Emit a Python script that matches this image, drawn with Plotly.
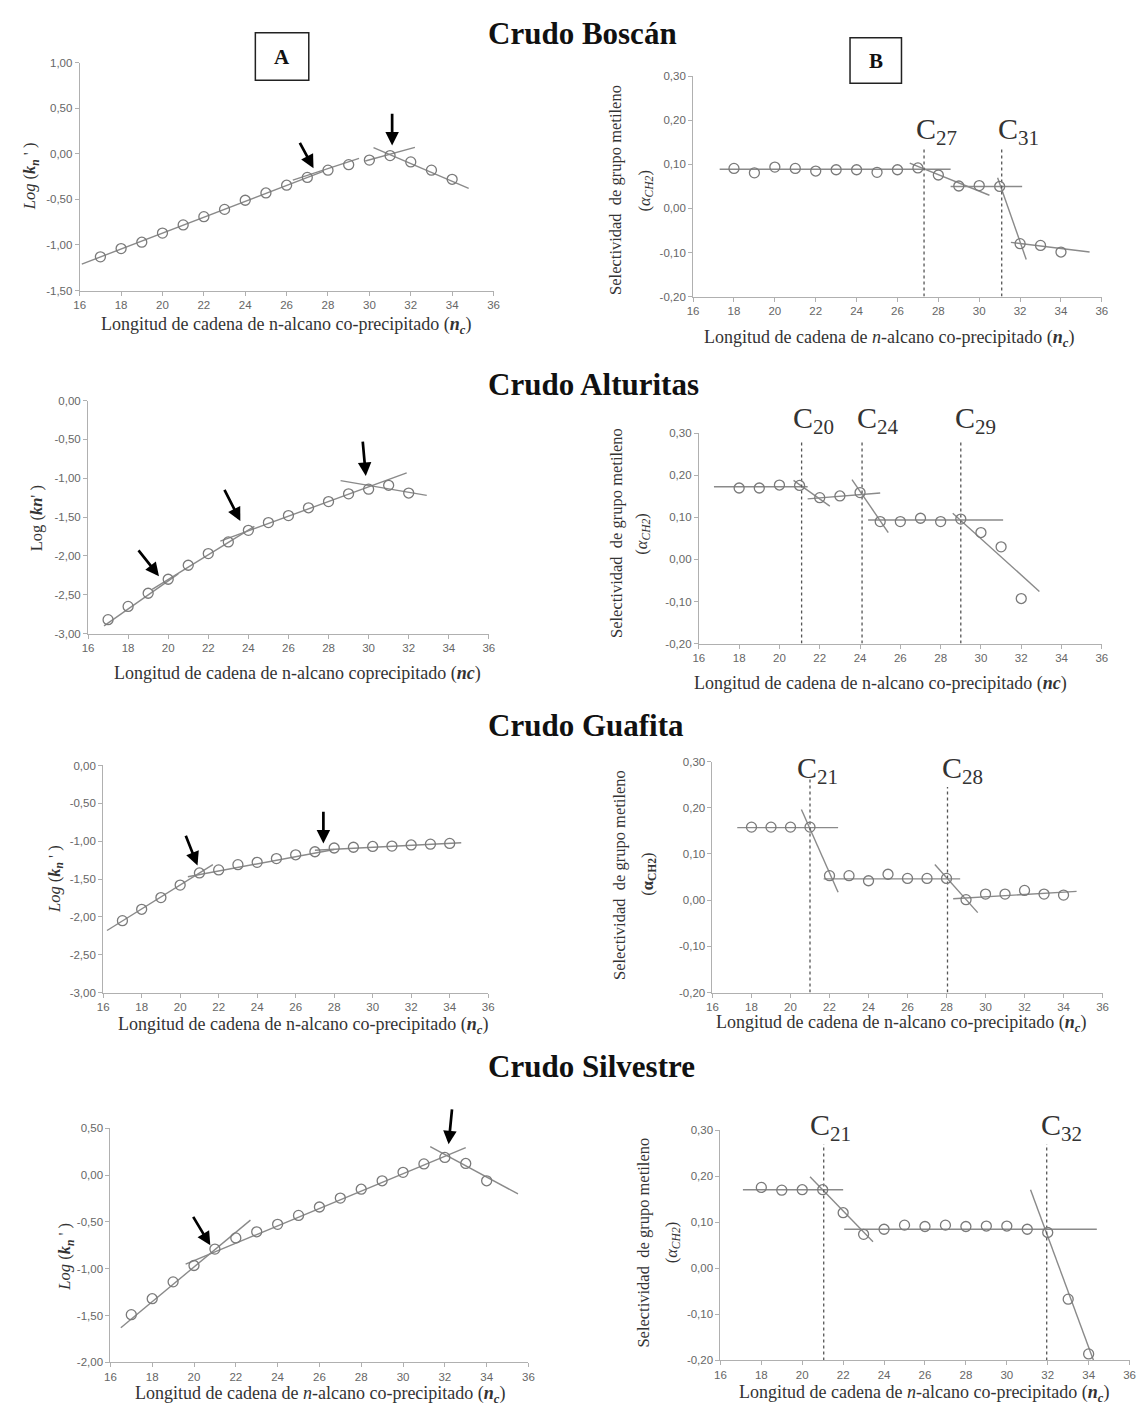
import plotly.graph_objects as go

W, H = 1141, 1411

# ------------------------------------------------------------------ data
# Crudo Boscán
bos_A_nc = [17, 18, 19, 20, 21, 22, 23, 24, 25, 26, 27, 28, 29, 30, 31, 32, 33, 34]
bos_A_log = [-1.13, -1.04, -0.97, -0.87, -0.78, -0.69, -0.61, -0.51, -0.43, -0.345,
             -0.26, -0.18, -0.12, -0.07, -0.02, -0.09, -0.18, -0.28]
bos_A_fits = [(16.1, -1.21, 27.8, -0.19), (26.3, -0.29, 29.5, -0.05),
              (29.8, -0.08, 32.2, 0.07), (30.2, 0.066, 34.8, -0.38)]
bos_A_arrows = [(26.6, 0.136, 27.3, -0.16), (31.1, 0.456, 31.1, 0.09)]

bos_B_nc = [18, 19, 20, 21, 22, 23, 24, 25, 26, 27, 28, 29, 30, 31, 32, 33, 34]
bos_B_alpha = [0.091, 0.081, 0.094, 0.091, 0.085, 0.088, 0.088, 0.082, 0.088, 0.092,
               0.076, 0.051, 0.052, 0.050, -0.080, -0.084, -0.099]
bos_B_fits = [(17.3, 0.089, 28.6, 0.089), (26.6, 0.103, 30.5, 0.030),
              (28.6, 0.050, 32.1, 0.050), (30.9, 0.070, 32.3, -0.116),
              (31.55, -0.077, 35.4, -0.099)]
bos_B_breaks = [27.3, 31.1]
bos_B_break_top = [0.137, 0.137]
bos_B_labels = ["27", "31"]
bos_B_label_x = [27.9, 31.9]
bos_B_label_y = [0.128, 0.128]

# Crudo Alturitas
alt_A_nc = [17, 18, 19, 20, 21, 22, 23, 24, 25, 26, 27, 28, 29, 30, 31, 32]
alt_A_log = [-2.82, -2.65, -2.48, -2.30, -2.12, -1.97, -1.82, -1.67, -1.57, -1.48,
             -1.38, -1.30, -1.20, -1.14, -1.09, -1.19]
alt_A_fits = [(16.8, -2.90, 20.5, -2.23), (19.2, -2.43, 24.3, -1.62),
              (22.6, -1.81, 31.9, -0.93), (28.6, -1.03, 32.9, -1.22)]
alt_A_arrows = [(18.46, -1.91, 19.54, -2.26), (22.77, -1.13, 23.6, -1.55),
                (29.7, -0.51, 29.86, -0.97)]

alt_B_nc = [18, 19, 20, 21, 22, 23, 24, 25, 26, 27, 28, 29, 30, 31, 32]
alt_B_alpha = [0.170, 0.170, 0.177, 0.176, 0.147, 0.151, 0.159, 0.090, 0.090, 0.098,
               0.090, 0.096, 0.064, 0.030, -0.093]
alt_B_fits = [(16.75, 0.173, 21.4, 0.173), (20.7, 0.188, 22.5, 0.127),
              (21.4, 0.144, 25.0, 0.158), (23.6, 0.190, 25.4, 0.064),
              (24.4, 0.094, 31.1, 0.094), (28.6, 0.110, 32.9, -0.076)]
alt_B_breaks = [21.1, 24.1, 29.0]
alt_B_break_top = [0.284, 0.284, 0.284]
alt_B_labels = ["20", "24", "29"]
alt_B_label_x = [21.7, 24.9, 29.75]
alt_B_label_y = [0.282, 0.282, 0.282]

# Crudo Guafita
gua_A_nc = [17, 18, 19, 20, 21, 22, 23, 24, 25, 26, 27, 28, 29, 30, 31, 32, 33, 34]
gua_A_log = [-2.05, -1.90, -1.745, -1.58, -1.42, -1.38, -1.31, -1.28, -1.23, -1.18,
             -1.14, -1.09, -1.08, -1.07, -1.065, -1.05, -1.04, -1.03]
gua_A_fits = [(16.2, -2.18, 21.7, -1.31), (20.4, -1.47, 28.0, -1.11),
              (27.0, -1.12, 34.6, -1.02)]
gua_A_arrows = [(20.26, -0.91, 20.9, -1.32), (27.44, -0.59, 27.44, -1.03)]

gua_B_nc = [18, 19, 20, 21, 22, 23, 24, 25, 26, 27, 28, 29, 30, 31, 32, 33, 34]
gua_B_alpha = [0.158, 0.158, 0.158, 0.158, 0.053, 0.053, 0.042, 0.056, 0.047, 0.047,
               0.047, 0.001, 0.013, 0.013, 0.021, 0.013, 0.011]
gua_B_fits = [(17.27, 0.157, 22.44, 0.157), (20.56, 0.196, 22.44, 0.017),
              (21.7, 0.046, 28.7, 0.046), (27.4, 0.077, 29.6, -0.027),
              (28.34, 0.003, 34.67, 0.019)]
gua_B_breaks = [21.0, 28.05]
gua_B_break_top = [0.262, 0.245]
gua_B_labels = ["21", "28"]
gua_B_label_x = [21.4, 28.8]
gua_B_label_y = [0.236, 0.236]

# Crudo Silvestre
sil_A_nc = [17, 18, 19, 20, 21, 22, 23, 24, 25, 26, 27, 28, 29, 30, 31, 32, 33, 34]
sil_A_log = [-1.49, -1.32, -1.14, -0.965, -0.79, -0.67, -0.605, -0.525, -0.43, -0.34,
             -0.245, -0.15, -0.06, 0.03, 0.12, 0.19, 0.125, -0.06]
sil_A_fits = [(16.5, -1.63, 22.7, -0.48), (19.6, -0.95, 33.0, 0.295),
              (31.3, 0.305, 35.5, -0.20)]
sil_A_arrows = [(19.92, -0.43, 20.78, -0.75), (32.35, 0.72, 32.18, 0.33)]

sil_B_nc = [18, 19, 20, 21, 22, 23, 24, 25, 26, 27, 28, 29, 30, 31, 32, 33, 34]
sil_B_alpha = [0.176, 0.170, 0.171, 0.171, 0.121, 0.074, 0.085, 0.094, 0.091, 0.094,
               0.091, 0.092, 0.092, 0.085, 0.078, -0.067, -0.186]
sil_B_fits = [(17.1, 0.171, 22.0, 0.171), (20.38, 0.199, 23.46, 0.058),
              (22.05, 0.085, 34.4, 0.085), (31.16, 0.171, 34.37, -0.216)]
sil_B_breaks = [21.05, 31.95]
sil_B_break_top = [0.27, 0.27]
sil_B_labels = ["21", "32"]
sil_B_label_x = [21.4, 32.66]
sil_B_label_y = [0.262, 0.262]

crude_titles = ["Crudo Boscán", "Crudo Alturitas", "Crudo Guafita", "Crudo Silvestre"]

# tick labels
x_ticks = [16, 18, 20, 22, 24, 26, 28, 30, 32, 34, 36]
y_ticks_bos_A = [-1.5, -1.0, -0.5, 0.0, 0.5, 1.0]
y_labels_bos_A = ["-1,50", "-1,00", "-0,50", "0,00", "0,50", "1,00"]
y_ticks_3 = [-3.0, -2.5, -2.0, -1.5, -1.0, -0.5, 0.0]
y_labels_3 = ["-3,00", "-2,50", "-2,00", "-1,50", "-1,00", "-0,50", "0,00"]
y_ticks_sil_A = [-2.0, -1.5, -1.0, -0.5, 0.0, 0.5]
y_labels_sil_A = ["-2,00", "-1,50", "-1,00", "-0,50", "0,00", "0,50"]
y_ticks_B = [-0.2, -0.1, 0.0, 0.1, 0.2, 0.3]
y_labels_B = ["-0,20", "-0,10", "0,00", "0,10", "0,20", "0,30"]

# ------------------------------------------------------------------ layout helpers
def px(x):
    return x / W


def py(y):
    return 1 - y / H


SERIF = "Liberation Serif, Times New Roman, serif"
TICKFONT = dict(family="Liberation Sans, Arial, sans-serif", size=11.5, color="#666666")
AXC = "#b0b0b0"
MK = "#7a7a7a"
LN = "#8a8a8a"

logk_it = "<i>Log</i> (<b><i>k<sub>n</sub></i></b> ' )"
logk_alt = "Log (<b><i>kn</i></b>' )"
sel_line = "Selectividad  de grupo metileno"
sel_it = "(<i>α<sub>CH2</sub></i>)"
sel_gua = "(<b>α<sub>CH2</sub></b>)"
xt_n = "Longitud de cadena de n-alcano co-precipitado (<b><i>n<sub>c</sub></i></b>)"
xt_ni = "Longitud de cadena de <i>n</i>-alcano co-precipitado (<b><i>n<sub>c</sub></i></b>)"
xt_alt_A = "Longitud de cadena de n-alcano coprecipitado (<b><i>nc</i></b>)"
xt_alt_B = "Longitud de cadena de n-alcano co-precipitado (<b><i>nc</i></b>)"

panels = [
    dict(dom=(74.5, 492.7, 57, 287), yr=(-1.5, 1.0), yt=(y_ticks_bos_A, y_labels_bos_A),
         nc=bos_A_nc, v=bos_A_log,
         fits=bos_A_fits, arrows=bos_A_arrows, ytitle=[logk_it], yt_x=[24], yt_y=172,
         xtitle=xt_n, xt_pos=(283, 322)),
    dict(dom=(694.4, 1107.5, 71, 293), yr=(-0.2, 0.3), yt=(y_ticks_B, y_labels_B),
         nc=bos_B_nc, v=bos_B_alpha,
         fits=bos_B_fits, breaks=bos_B_breaks, btop=bos_B_break_top, labels=bos_B_labels,
         lx=bos_B_label_x, ly=bos_B_label_y, ytitle=[sel_line, sel_it], yt_x=[616, 646],
         yt_y=186, xtitle=xt_ni, xt_pos=(892, 335)),
    dict(dom=(82.9, 488, 398, 633), yr=(-3.0, 0.0), yt=(y_ticks_3, y_labels_3),
         nc=alt_A_nc, v=alt_A_log,
         fits=alt_A_fits, arrows=alt_A_arrows, ytitle=[logk_alt], yt_x=[31], yt_y=517,
         xtitle=xt_alt_A, xt_pos=(294.5, 673)),
    dict(dom=(700.2, 1107.5, 431, 643), yr=(-0.2, 0.3), yt=(y_ticks_B, y_labels_B),
         nc=alt_B_nc, v=alt_B_alpha,
         fits=alt_B_fits, breaks=alt_B_breaks, btop=alt_B_break_top, labels=alt_B_labels,
         lx=alt_B_label_x, ly=alt_B_label_y, ytitle=[sel_line, sel_it], yt_x=[617, 643],
         yt_y=532, xtitle=xt_alt_B, xt_pos=(884, 683)),
    dict(dom=(98.2, 487.3, 766, 995), yr=(-3.0, 0.0), yt=(y_ticks_3, y_labels_3),
         nc=gua_A_nc, v=gua_A_log,
         fits=gua_A_fits, arrows=gua_A_arrows, ytitle=[logk_it], yt_x=[49], yt_y=880,
         xtitle=xt_n, xt_pos=(300, 1028)),
    dict(dom=(714, 1108.2, 762, 995), yr=(-0.2, 0.3), yt=(y_ticks_B, y_labels_B),
         nc=gua_B_nc, v=gua_B_alpha,
         fits=gua_B_fits, breaks=gua_B_breaks, btop=gua_B_break_top, labels=gua_B_labels,
         lx=gua_B_label_x, ly=gua_B_label_y, ytitle=[sel_line, sel_gua], yt_x=[620, 648],
         yt_y=876, xtitle=xt_n, xt_pos=(905, 1026)),
    dict(dom=(105.5, 528, 1132, 1368), yr=(-2.0, 0.5), yt=(y_ticks_sil_A, y_labels_sil_A),
         nc=sil_A_nc, v=sil_A_log,
         fits=sil_A_fits, arrows=sil_A_arrows, ytitle=[logk_it], yt_x=[60], yt_y=1261,
         xtitle=xt_ni, xt_pos=(317, 1400)),
    dict(dom=(722, 1135.5, 1134, 1366), yr=(-0.2, 0.3), yt=(y_ticks_B, y_labels_B),
         nc=sil_B_nc, v=sil_B_alpha,
         fits=sil_B_fits, breaks=sil_B_breaks, btop=sil_B_break_top, labels=sil_B_labels,
         lx=sil_B_label_x, ly=sil_B_label_y, ytitle=[sel_line, sel_it], yt_x=[644, 673],
         yt_y=1247, xtitle=xt_ni, xt_pos=(928, 1399)),
]

fig = go.Figure()
annotations = []
shapes = []
layout_axes = {}

for i, p in enumerate(panels, start=1):
    xa = "x" if i == 1 else f"x{i}"
    ya = "y" if i == 1 else f"y{i}"
    xk = "xaxis" if i == 1 else f"xaxis{i}"
    yk = "yaxis" if i == 1 else f"yaxis{i}"
    x0, x1, yt, yb = p["dom"]
    layout_axes[xk] = dict(domain=[px(x0), px(x1)], anchor=ya, range=[16, 36],
                           tickmode="array", tickvals=x_ticks,
                           ticktext=[str(t) for t in x_ticks],
                           showline=True, linecolor=AXC, linewidth=1,
                           ticks="outside", ticklen=4, tickcolor=AXC, showgrid=False,
                           zeroline=False, tickfont=TICKFONT)
    layout_axes[yk] = dict(domain=[py(yb), py(yt)], anchor=xa, range=list(p["yr"]),
                           tickmode="array", tickvals=p["yt"][0], ticktext=p["yt"][1],
                           showline=True, linecolor=AXC, linewidth=1, ticks="outside",
                           ticklen=4, tickcolor=AXC, showgrid=False, zeroline=False,
                           tickfont=TICKFONT)

    for (fx0, fy0, fx1, fy1) in p["fits"]:
        fig.add_trace(go.Scatter(x=[fx0, fx1], y=[fy0, fy1], mode="lines",
                                 line=dict(color=LN, width=1.4), xaxis=xa, yaxis=ya,
                                 showlegend=False, hoverinfo="skip"))
    if "breaks" in p:
        for bx, bt in zip(p["breaks"], p["btop"]):
            fig.add_trace(go.Scatter(x=[bx, bx], y=[p["yr"][0], bt], mode="lines",
                                     line=dict(color="#555555", width=1.3, dash="dot"),
                                     xaxis=xa, yaxis=ya, showlegend=False, hoverinfo="skip"))
        for lab, lx, ly in zip(p["labels"], p["lx"], p["ly"]):
            annotations.append(dict(x=lx, y=ly, xref=xa, yref=ya, showarrow=False,
                                    text=f"C<sub>{lab}</sub>", xanchor="center",
                                    yanchor="bottom",
                                    font=dict(family=SERIF, size=30, color="#333333")))
    fig.add_trace(go.Scatter(x=p["nc"], y=p["v"], mode="markers",
                             marker=dict(symbol="circle-open", size=10, color=MK,
                                         line=dict(width=1.3, color=MK)),
                             xaxis=xa, yaxis=ya, showlegend=False, cliponaxis=False))
    for (tx, ty, hx, hy) in p.get("arrows", []):
        annotations.append(dict(x=hx, y=hy, ax=tx, ay=ty, xref=xa, yref=ya, axref=xa,
                                ayref=ya, text="", showarrow=True, arrowhead=2,
                                arrowsize=1.0, arrowwidth=2.7, arrowcolor="black"))
    for txt, tx in zip(p["ytitle"], p["yt_x"]):
        annotations.append(dict(x=px(tx), y=py(p["yt_y"]), xref="paper", yref="paper",
                                text=txt, showarrow=False, textangle=-90,
                                xanchor="center", yanchor="middle",
                                font=dict(family=SERIF, size=16.5, color="#333333")))
    xtx, xty = p["xt_pos"]
    annotations.append(dict(x=px(xtx), y=py(xty), xref="paper", yref="paper",
                            text=p["xtitle"], showarrow=False, xanchor="center",
                            yanchor="middle",
                            font=dict(family=SERIF, size=18, color="#333333")))

title_y = [28, 382, 726, 1070]
for t, ty in zip(crude_titles, title_y):
    annotations.append(dict(x=px(485), y=py(ty), xref="paper", yref="paper", text=f"<b>{t}</b>",
                            showarrow=False, xanchor="left", yanchor="middle",
                            font=dict(family=SERIF, size=31, color="#111111")))

for lab, (bx0, by0, bx1, by1) in [("A", (252, 27, 306, 75)), ("B", (853, 32, 905, 78))]:
    shapes.append(dict(type="rect", xref="paper", yref="paper", x0=px(bx0), x1=px(bx1),
                       y0=py(by1), y1=py(by0), line=dict(color="#222222", width=1.5)))
    annotations.append(dict(x=px((bx0 + bx1) / 2), y=py((by0 + by1) / 2), xref="paper",
                            yref="paper", text=f"<b>{lab}</b>", showarrow=False,
                            xanchor="center", yanchor="middle",
                            font=dict(family=SERIF, size=21, color="#111111")))

fig.update_layout(width=W, height=H, autosize=False, margin=dict(l=0, r=0, t=0, b=0),
                  paper_bgcolor="white", plot_bgcolor="white",
                  annotations=annotations, shapes=shapes, showlegend=False, **layout_axes)

fig.write_html("out.html", config={"displayModeBar": False},
               post_script="document.body.style.margin='0';document.body.style.padding='0';")
